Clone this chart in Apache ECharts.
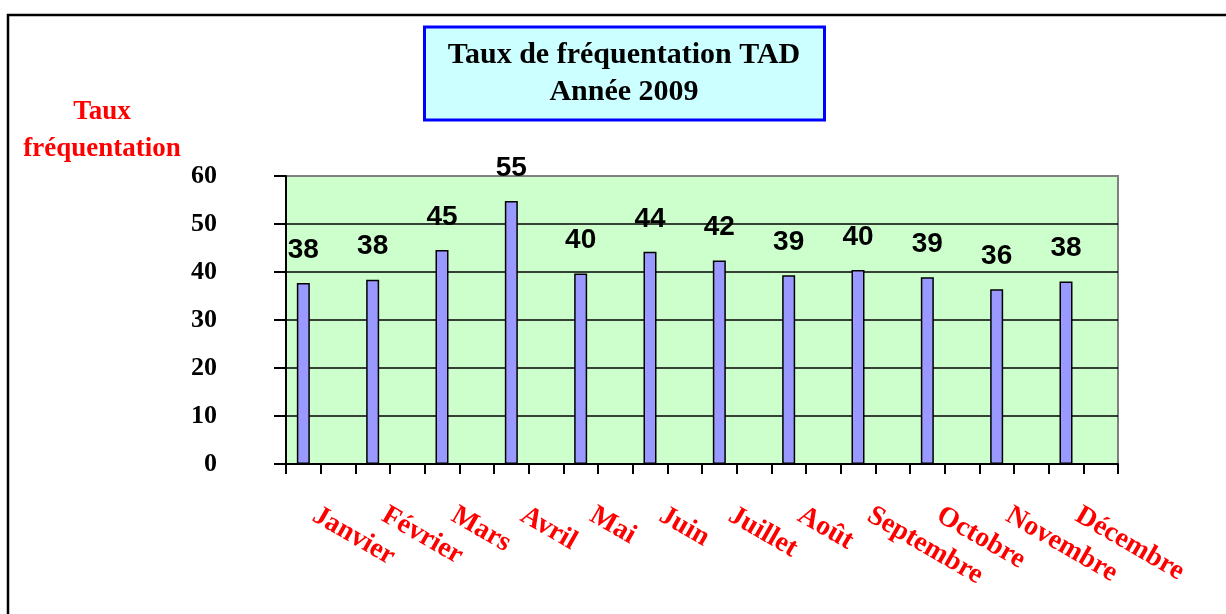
<!DOCTYPE html>
<html>
<head>
<meta charset="utf-8">
<script src="https://cdn.jsdelivr.net/npm/echarts@6/dist/echarts.min.js"></script>
<style>
html,body{margin:0;padding:0;background:#fff;}
#chart{width:1226px;height:614px;}
</style>
</head>
<body>
<div id="chart"></div>
<script>
const months = ['Janvier','Février','Mars','Avril','Mai','Juin','Juillet','Août','Septembre','Octobre','Novembre','Décembre'];
const tauxValues = [37.7, 38.4, 44.6, 54.8, 39.7, 44.2, 42.4, 39.3, 40.4, 38.9, 36.4, 38.0];
const yTicks = {min: 0, max: 60, interval: 10};
const titleText = 'Taux de fréquentation TAD\nAnnée 2009';
const yName = 'Taux\nfréquentation';

// Excel-style axis: each month occupies two slots, bar drawn in the first
const slotLabels = months.flatMap(m => [m, '']);
const slotValues = tauxValues.flatMap(v => [v, '-']);

const chart = echarts.init(document.getElementById('chart'));
const serif = '"Liberation Serif", "Times New Roman", serif';
const sans = '"Liberation Sans", Arial, sans-serif';

chart.setOption({
  animation: false,
  backgroundColor: '#ffffff',
  grid: {
    left: 286, top: 176, right: 108, bottom: 150,
    show: true, backgroundColor: '#CCFFCC', borderColor: '#808080', borderWidth: 2
  },
  xAxis: {
    type: 'category',
    data: slotLabels,
    boundaryGap: true,
    axisLine: {lineStyle: {color: '#000', width: 2}},
    axisTick: {show: true, interval: 0, length: 10, inside: false, lineStyle: {color: '#000', width: 2}},
    axisLabel: {
      interval: 0, rotate: -30, margin: 43, padding: [0, 0, 0, 13],
      color: '#FF0000', fontFamily: serif, fontWeight: 'bold', fontSize: 28
    },
    splitLine: {show: false}
  },
  yAxis: {
    type: 'value',
    min: yTicks.min, max: yTicks.max, interval: yTicks.interval,
    axisLine: {show: true, lineStyle: {color: '#000', width: 2}},
    axisTick: {show: true, length: 12, inside: false, lineStyle: {color: '#000', width: 2}},
    axisLabel: {margin: 69, padding: [4, 0, 0, 0], color: '#000', fontFamily: serif, fontWeight: 'bold', fontSize: 26},
    splitLine: {show: true, lineStyle: {color: ['#000','#000','#000','#000','#000','#000','#808080'], width: 1.5}}
  },
  series: [{
    type: 'bar',
    data: slotValues,
    barWidth: 13,
    itemStyle: {color: '#9999FF', borderColor: '#000', borderWidth: 1.5},
    label: {
      show: true, position: 'top', distance: 19,
      formatter: p => String(Math.round(p.value)),
      color: '#000', fontFamily: sans, fontWeight: 'bold', fontSize: 28
    }
  }],
  graphic: [
    {
      type: 'rect', z: -10, silent: true,
      shape: {x: 8, y: 15, width: 1240, height: 700},
      style: {fill: 'none', stroke: '#000', lineWidth: 2.5}
    },
    {
      type: 'rect', silent: true,
      shape: {x: 424.5, y: 27, width: 400, height: 93},
      style: {fill: '#CCFFFF', stroke: '#0000FF', lineWidth: 3}
    },
    {
      type: 'text', silent: true,
      style: {
        text: titleText, x: 624, y: 36.4, align: 'center', verticalAlign: 'top',
        font: 'bold 30px ' + serif, lineHeight: 37, fill: '#000'
      }
    },
    {
      type: 'text', silent: true,
      style: {
        text: yName, x: 102, y: 93.5, align: 'center', verticalAlign: 'top',
        font: 'bold 27px ' + serif, lineHeight: 37, fill: '#FF0000'
      }
    }
  ]
});
</script>
</body>
</html>
